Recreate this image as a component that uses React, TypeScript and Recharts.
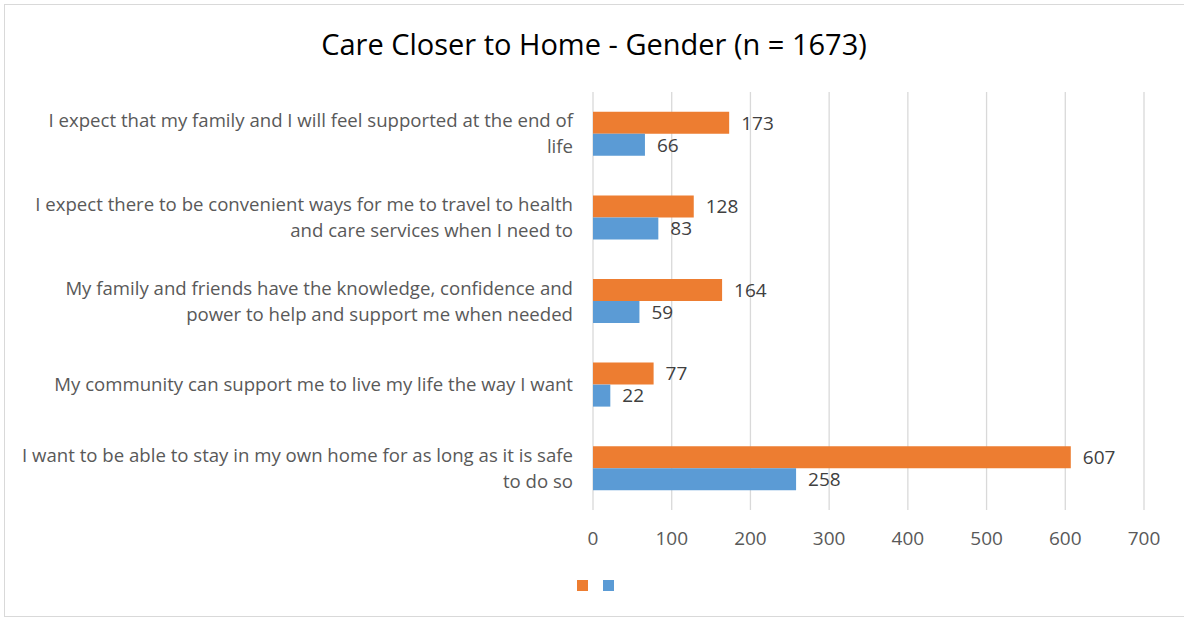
import React from "react";
import { BarChart, Bar, XAxis, YAxis, CartesianGrid, LabelList } from "recharts";

const categories = [
  "I expect that my family and I will feel supported at the end of\nlife",
  "I expect there to be convenient ways for me to travel to health\nand care services when I need to",
  "My family and friends have the knowledge, confidence and\npower to help and support me when needed",
  "My community can support me to live my life the way I want",
  "I want to be able to stay in my own home for as long as it is safe\nto do so",
];
const seriesA = [173, 128, 164, 77, 607];
const seriesB = [66, 83, 59, 22, 258];
const xTicks = [0, 100, 200, 300, 400, 500, 600, 700];

const data = categories.map((c, i) => ({ cat: c, a: seriesA[i], b: seriesB[i] }));

const FONT = "'Open Sans', sans-serif";

const YTick = (props: any) => {
  const { x, y, payload } = props;
  const lines = String(payload.value).split("\n");
  const lh = 26;
  const start = -((lines.length - 1) * lh) / 2;
  const tx = x - 12;
  return (
    <text x={tx} y={y} textAnchor="end" fill="#595959" fontSize={18.6} fontFamily={FONT}>
      {lines.map((l, i) => (
        <tspan key={i} x={tx} y={y + start + i * lh} dy="0.35em">
          {l}
        </tspan>
      ))}
    </text>
  );
};

const LegendSquares = () => (
  <div style={{ position: "absolute", left: 577, top: 580, display: "flex", gap: 15 }}>
    <div style={{ width: 11, height: 11, background: "#ED7D31" }} />
    <div style={{ width: 11, height: 11, background: "#5B9BD5" }} />
  </div>
);

export default function App() {
  return (
    <div style={{ position: "absolute", left: 0, top: 0, width: 1184, height: 619, background: "#fff", fontFamily: FONT }}>
      <div
        style={{
          position: "absolute",
          left: 4,
          top: 4,
          width: 1190,
          height: 613,
          border: "1.5px solid #d9d9d9",
          boxSizing: "border-box",
        }}
      />
      <div
        style={{
          position: "absolute",
          left: 0,
          top: 24,
          width: 1188,
          textAlign: "center",
          fontSize: 29,
          lineHeight: "40px",
          color: "#000",
          fontFamily: FONT,
        }}
      >
        Care Closer to Home - Gender (n = 1673)
      </div>
      <BarChart
        width={1184}
        height={619}
        data={data}
        layout="vertical"
        margin={{ top: 92, right: 40, bottom: 79, left: 0 }}
        barCategoryGap="23.7%"
        barGap={0}
        style={{ position: "absolute", left: 0, top: 0 }}
      >
        <CartesianGrid horizontal={false} stroke="#d9d9d9" strokeWidth={1.3} />
        <XAxis
          type="number"
          domain={[0, 700]}
          ticks={xTicks}
          axisLine={false}
          tickLine={false}
          tickMargin={16}
          tick={{ fill: "#595959", fontSize: 19, fontFamily: FONT }}
          height={30}
        />
        <YAxis
          type="category"
          dataKey="cat"
          width={593}
          axisLine={false}
          tickLine={false}
          tick={<YTick />}
          interval={0}
        />
        <Bar dataKey="a" fill="#ED7D31" isAnimationActive={false}>
          <LabelList dataKey="a" position="right" offset={12} fill="#404040" fontSize={19} fontFamily={FONT} />
        </Bar>
        <Bar dataKey="b" fill="#5B9BD5" isAnimationActive={false}>
          <LabelList dataKey="b" position="right" offset={12} fill="#404040" fontSize={19} fontFamily={FONT} />
        </Bar>
      </BarChart>
      <LegendSquares />
    </div>
  );
}
